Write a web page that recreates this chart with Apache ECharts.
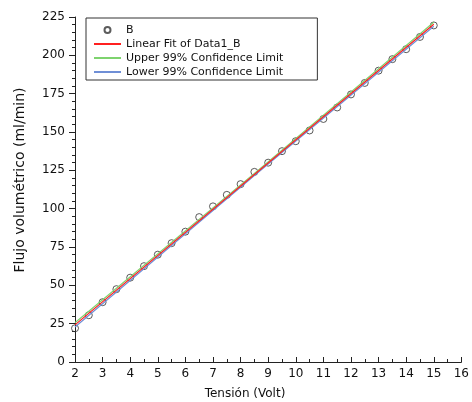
<!DOCTYPE html>
<html>
<head>
<meta charset="utf-8">
<script src="https://cdn.jsdelivr.net/npm/echarts@6/dist/echarts.min.js"></script>
<style>
  html, body { margin: 0; padding: 0; background: #fff; }
  #chart { width: 472px; height: 402px; }
</style>
</head>
<body>
<div id="chart"></div>
<script>
// puntos medidos (B)
const tension = [2, 2.5, 3, 3.5, 4, 4.5, 5, 5.5, 6, 6.5, 7, 7.5, 8, 8.5, 9,
  9.5, 10, 10.5, 11, 11.5, 12, 12.5, 13, 13.5, 14, 14.5, 15]
const flujo = [22, 30.5, 39, 47.5, 55, 62.5, 70, 77.5, 85, 94.5, 101.5, 109, 116, 124, 130,
  137.5, 144, 151, 158.5, 166, 174.5, 182, 190, 197.5, 204, 212, 219.5]

// ajuste lineal y limites de confianza 99%
const fitX = [2, 8.5, 15]
const fitY = [24.2, 122.3, 220.3]
const upperY = [25.6, 123.0, 221.6]
const lowerY = [22.8, 121.6, 219.0]

const font = 'DejaVu Sans'

function pairs(xs, ys) {
  let out = []
  for (let i = 0; i < xs.length; i++) out.push([xs[i], ys[i]])
  return out
}

let myChart = echarts.init(document.getElementById('chart'))
myChart.setOption({
  animation: false,
  grid: { left: 75, right: 10, top: 17, bottom: 40 },
  legend: {
    orient: 'vertical',
    left: 86, top: 18,
    padding: [6, 34, 2, 7],
    itemGap: 2,
    itemWidth: 27,
    itemHeight: 6,
    borderColor: '#333',
    borderWidth: 1,
    textStyle: { fontFamily: font, fontSize: 11, color: '#111', lineHeight: 12 },
    data: [
      { name: 'B' },
      { name: 'Linear Fit of Data1_B', itemStyle: { opacity: 0 } },
      { name: 'Upper 99% Confidence Limit', itemStyle: { opacity: 0 } },
      { name: 'Lower 99% Confidence Limit', itemStyle: { opacity: 0 } }
    ]
  },
  xAxis: {
    type: 'value', min: 2, max: 16, interval: 1,
    axisLine: { show: true, lineStyle: { color: '#222' } },
    axisTick: { show: true, inside: true, length: 5, lineStyle: { color: '#222' } },
    minorTick: { show: true, splitNumber: 2, length: 3, lineStyle: { color: '#222' } },
    splitLine: { show: false },
    axisLabel: { fontFamily: font, fontSize: 12, color: '#111', margin: 6 }
  },
  yAxis: {
    type: 'value', min: 0, max: 225, interval: 25,
    axisLine: { show: true, lineStyle: { color: '#222' } },
    axisTick: { show: true, length: 6, lineStyle: { color: '#222' } },
    minorTick: { show: true, splitNumber: 5, length: 3, lineStyle: { color: '#222' } },
    splitLine: { show: false },
    axisLabel: { fontFamily: font, fontSize: 12, color: '#111', margin: 10 }
  },
  graphic: [
    {
      type: 'text', x: 20, y: 180, rotation: Math.PI / 2,
      style: { text: 'Flujo volumétrico (ml/min)', font: '14px "DejaVu Sans"', fill: '#111',
        textAlign: 'center', textVerticalAlign: 'middle' }
    },
    {
      type: 'text', x: 245, y: 394,
      style: { text: 'Tensión (Volt)', font: '12px "DejaVu Sans"', fill: '#111',
        textAlign: 'center', textVerticalAlign: 'middle' }
    }
  ],
  series: [
    {
      name: 'B', type: 'scatter', symbol: 'circle', symbolSize: 7, z: 2,
      itemStyle: { color: 'rgba(255,255,255,0)', borderColor: '#333', borderWidth: 1 },
      data: pairs(tension, flujo)
    },
    {
      name: 'Upper 99% Confidence Limit', type: 'line', symbol: 'none', z: 3,
      lineStyle: { color: '#7ed36e', width: 1.2 }, itemStyle: { color: '#7ed36e' },
      data: pairs(fitX, upperY)
    },
    {
      name: 'Lower 99% Confidence Limit', type: 'line', symbol: 'none', z: 3,
      lineStyle: { color: '#6f8fd6', width: 1.2 }, itemStyle: { color: '#6f8fd6' },
      data: pairs(fitX, lowerY)
    },
    {
      name: 'Linear Fit of Data1_B', type: 'line', symbol: 'none', z: 4,
      lineStyle: { color: '#ff2020', width: 1.2 }, itemStyle: { color: '#ff2020' },
      data: pairs(fitX, fitY)
    }
  ]
})
</script>
</body>
</html>
